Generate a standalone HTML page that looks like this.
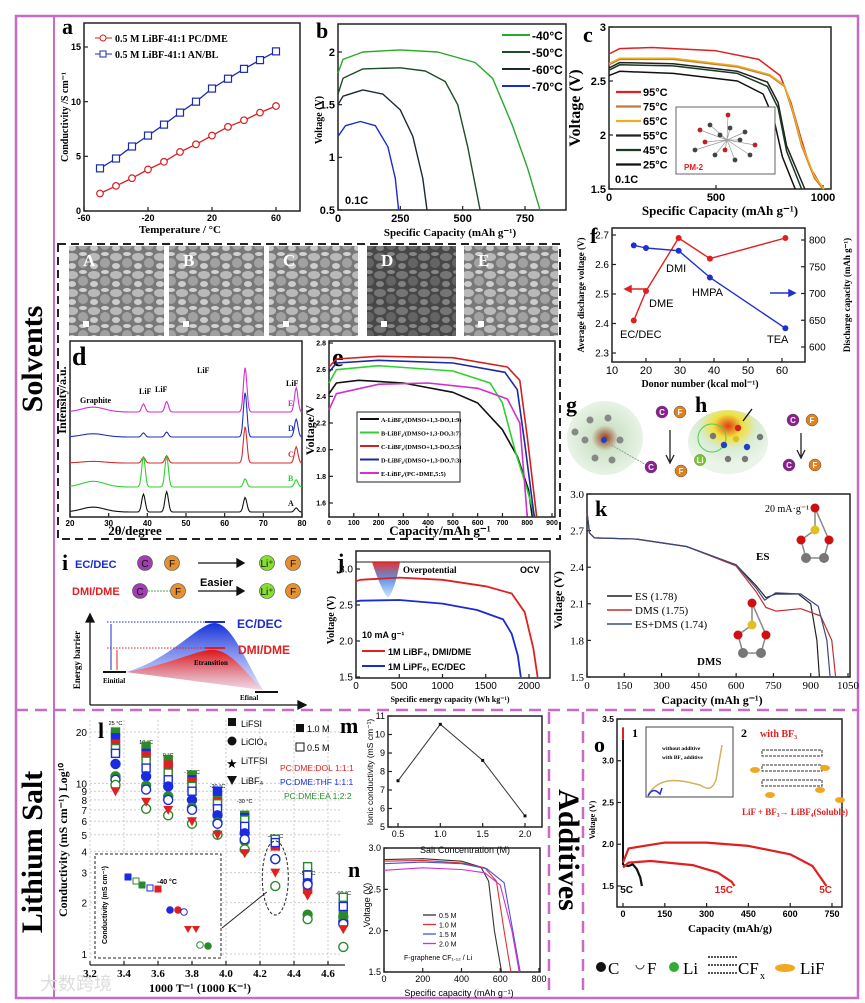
<!DOCTYPE html>
<html><head><meta charset="utf-8"><style>
html,body{margin:0;padding:0;background:#fff;}
svg{display:block;font-family:"Liberation Sans",sans-serif;}
.serif{font-family:"Liberation Serif",serif;}
</style></head><body>
<svg id="fig" width="865" height="1003" viewBox="0 0 865 1003" xmlns="http://www.w3.org/2000/svg">
<defs>
<pattern id="sem" width="22" height="18" patternUnits="userSpaceOnUse">
<rect width="22" height="18" fill="#6e6e6e"/>
<ellipse cx="6" cy="5" rx="6" ry="4" fill="#b4b4b4"/>
<ellipse cx="17" cy="11" rx="5" ry="5" fill="#9a9a9a"/>
<ellipse cx="6" cy="14" rx="4" ry="3" fill="#c8c8c8"/>
<ellipse cx="17" cy="2" rx="4" ry="2" fill="#cfcfcf"/>
</pattern>
<linearGradient id="blueG" x1="0" y1="0" x2="0" y2="1"><stop offset="0" stop-color="#1530d8"/><stop offset="1" stop-color="#c8d0ff" stop-opacity="0.6"/></linearGradient>
<linearGradient id="redG" x1="0" y1="0" x2="0" y2="1"><stop offset="0" stop-color="#e01515"/><stop offset="1" stop-color="#ffd0d0" stop-opacity="0.6"/></linearGradient>
<linearGradient id="funnel" x1="0" y1="0" x2="0" y2="1"><stop offset="0" stop-color="#e01a1a"/><stop offset="0.45" stop-color="#4a88e0"/><stop offset="1" stop-color="#d0e4ff"/></linearGradient>
<radialGradient id="blob" cx="0.5" cy="0.5" r="0.5"><stop offset="0" stop-color="#9c3a1a"/><stop offset="0.35" stop-color="#cfe3c9"/><stop offset="1" stop-color="#e8f3e6"/></radialGradient>
<radialGradient id="blob2" cx="0.5" cy="0.25" r="0.6"><stop offset="0" stop-color="#e04010"/><stop offset="0.3" stop-color="#f0e040"/><stop offset="0.6" stop-color="#d8ecd4"/><stop offset="1" stop-color="#eaf4e8"/></radialGradient>
</defs>
<rect x="0" y="0" width="865" height="1003" fill="#fff"/>
<!-- borders -->
<rect x="16" y="16" width="842" height="982" fill="none" stroke="#c86ac8" stroke-width="2.5"/>
<line x1="54" y1="16" x2="54" y2="998" stroke="#c86ac8" stroke-width="2"/>
<line x1="16" y1="710" x2="858" y2="710" stroke="#c86ac8" stroke-width="2.5" stroke-dasharray="12,7"/>
<line x1="549" y1="712" x2="549" y2="998" stroke="#c86ac8" stroke-width="2.5" stroke-dasharray="12,7"/>
<line x1="583" y1="712" x2="583" y2="998" stroke="#c86ac8" stroke-width="2.5" stroke-dasharray="12,7"/>
<rect x="58" y="244" width="502" height="295" fill="none" stroke="#222" stroke-width="2" stroke-dasharray="8,5"/>
<text class="serif" x="35" y="359" transform="rotate(-90 35 359)" text-anchor="middle" dominant-baseline="middle" font-size="30" font-weight="bold">Solvents</text>
<text class="serif" x="35" y="852" transform="rotate(-90 35 852)" text-anchor="middle" dominant-baseline="middle" font-size="30" font-weight="bold">Lithium Salt</text>
<text class="serif" x="566" y="850" transform="rotate(90 566 850)" text-anchor="middle" dominant-baseline="middle" font-size="30" font-weight="bold">Additives</text>
<text x="40" y="990" font-size="18" fill="#ddd">大数跨境</text>
<g id="layer"></g>
</svg>
<script>
const NS='http://www.w3.org/2000/svg';
const root=document.getElementById('layer');
function mk(tag,attrs,parent){const e=document.createElementNS(NS,tag);for(const k in attrs)e.setAttribute(k,attrs[k]);(parent||root).appendChild(e);return e;}
function txt(s,attrs,parent){const e=mk('text',attrs,parent);e.textContent=s;return e;}
function lin(d0,d1,r0,r1){return v=>r0+(v-d0)*(r1-r0)/(d1-d0);}

/* ---------- DATA ---------- */
// a
const aTemps=[-50,-40,-30,-20,-10,0,10,20,30,40,50,60];
const aPCDME=[1.6,2.3,3.0,3.8,4.5,5.4,6.1,6.9,7.7,8.3,9.0,9.6];
const aANBL=[3.9,4.8,5.9,6.9,7.9,9.0,10.0,11.2,12.1,13.0,13.8,14.6];
const aXTicks=[-60,-20,20,60];
const aYTicks=[0,5,10,15];
// b
const bLabels=['-40°C','-50°C','-60°C','-70°C'];
const bCurves=[
 [[0,1.8],[20,1.93],[100,2.0],[250,2.02],[400,2.0],[550,1.9],[620,1.75],[700,1.3],[760,0.9],[810,0.5]],
 [[0,1.6],[20,1.75],[100,1.84],[250,1.85],[350,1.82],[430,1.72],[480,1.5],[520,1.1],[570,0.5]],
 [[0,1.5],[20,1.58],[100,1.64],[180,1.6],[250,1.45],[300,1.2],[340,0.8],[357,0.5]],
 [[0,1.2],[30,1.3],[90,1.34],[150,1.3],[200,1.1],[230,0.8],[243,0.5]]];
const bXTicks=[0,250,500,750];
const bYTicks=[0.5,1,1.5,2];
// c
const cLabels=['95°C','75°C','65°C','55°C','45°C','25°C'];
const cCurves=[
 [[0,2.75],[50,2.8],[200,2.81],[500,2.78],[700,2.7],[800,2.55],[850,2.3],[900,1.95],[940,1.7],[1000,1.5]],
 [[0,2.65],[50,2.7],[300,2.7],[600,2.63],[750,2.55],[820,2.45],[860,2.2],[900,1.9],[960,1.6],[1000,1.5]],
 [[0,2.66],[50,2.71],[300,2.71],[600,2.64],[750,2.56],[820,2.46],[860,2.22],[900,1.92],[960,1.62],[1005,1.5]],
 [[0,2.62],[50,2.67],[300,2.66],[600,2.59],[740,2.49],[790,2.3],[830,1.9],[915,1.5]],
 [[0,2.6],[50,2.65],[300,2.64],[600,2.57],[740,2.45],[790,2.25],[830,1.85],[900,1.5]],
 [[0,2.55],[50,2.59],[300,2.57],[600,2.5],[720,2.38],[770,2.15],[810,1.8],[870,1.5]]];
const cXTicks=[0,500,1000];
const cYTicks=[1.5,2,2.5,3];
// d
const dNames=['E','D','C','B','A'];
const dPeaks=[26,39,45,65.3,78.5];
const dHeights=[[6,10,13,55,30],[4,5,6,55,22],[2,7,9,45,20],[7,38,38,10,9],[6,22,25,18,5]];
// e
const eLabels=['A-LiBF₄/(DMSO+1,3-DO,1:9)','B-LiBF₄/(DMSO+1,3-DO,3:7)','C-LiBF₄/(DMSO+1,3-DO,5:5)','D-LiBF₄/(DMSO+1,3-DO,7:3)','E-LiBF₄/(PC+DME,5:5)'];
const eCurves=[
 [[0,2.42],[30,2.5],[120,2.52],[300,2.5],[500,2.43],[600,2.35],[700,2.15],[760,1.95],[805,1.7],[820,1.5]],
 [[0,2.5],[30,2.6],[200,2.63],[500,2.59],[650,2.5],[700,2.35],[750,2.0],[800,1.7],[830,1.5]],
 [[0,2.62],[30,2.68],[200,2.7],[500,2.69],[720,2.62],[770,2.52],[800,2.1],[838,1.5]],
 [[0,2.58],[30,2.65],[200,2.67],[500,2.65],[710,2.58],[760,2.45],[790,2.05],[828,1.5]],
 [[0,2.3],[30,2.42],[200,2.49],[400,2.5],[600,2.46],[720,2.38],[770,2.2],[800,1.5]]];
const eXTicks=[0,100,200,300,400,500,600,700,800,900];
const eYTicks=[1.6,1.8,2.0,2.2,2.4,2.6,2.8];
// f
const fDonor=[16.4,20,29.6,38.8,61];
const fVolt=[2.41,2.51,2.69,2.62,2.69];
const fCap=[790,785,780,730,635];
const fNames=['EC/DEC','DME','DMI','HMPA','TEA'];
const fXTicks=[10,20,30,40,50,60];
const fYTicks=[2.3,2.4,2.5,2.6,2.7];
const fY2Ticks=[600,650,700,750,800];
// j
const jCurves=[
 [[0,2.83],[50,2.85],[500,2.88],[1000,2.85],[1500,2.76],[1800,2.66],[1950,2.4],[2050,1.9],[2100,1.5]],
 [[0,2.55],[50,2.56],[500,2.57],[1000,2.52],[1400,2.43],[1700,2.3],[1800,2.1],[1870,1.8],[1905,1.5]]];
const jXTicks=[0,500,1000,1500,2000];
const jYTicks=[1.5,2.0,2.5,3.0];
// k
const kLabels=['ES (1.78)','DMS (1.75)','ES+DMS (1.74)'];
const kCurves=[
 [[0,2.85],[10,2.68],[30,2.64],[200,2.63],[400,2.57],[600,2.42],[680,2.25],[720,2.15],[760,2.18],[850,2.18],[900,2.1],[925,1.8],[935,1.5]],
 [[0,2.85],[10,2.68],[30,2.64],[200,2.63],[400,2.57],[600,2.41],[680,2.2],[720,2.07],[760,2.04],[860,2.06],[940,2.0],[985,1.8],[1000,1.5]],
 [[0,2.85],[10,2.68],[30,2.64],[200,2.63],[400,2.57],[600,2.42],[680,2.23],[715,2.13],[760,2.19],[860,2.18],[930,2.08],[965,1.8],[978,1.5]]];
const kXTicks=[0,150,300,450,600,750,900,1050];
const kYTicks=[1.5,1.8,2.1,2.4,2.7,3.0];
// l
const lInvT=[3.35,3.53,3.66,3.8,3.95,4.11,4.29,4.48,4.69];
const lTempNames=['25 °C','10 °C','0 °C','-10 °C','-20 °C','-30 °C','-40 °C','-50 °C','-60 °C'];
const lSqFillGreen=[20,16.5,13.8,11.2,8.6,6.5,4.7,3.0,1.75];
const lSqFillBlue=[18.5,15,12.5,10.5,9,6.3,4.5,2.6,2.0];
const lSqFillRed=[17,14.5,12.8,10.2,7.8,5.3,4.3,2.4,1.6];
const lSqOpenGreen=[16,13.5,11.5,9.6,7.6,6.1,4.7,3.25,2.15];
const lSqOpenBlue=[15,12.3,10.5,9,7.1,5.6,4.5,2.9,1.9];
const lCircFillBlue=[13,11,9.6,8,6.5,5.1,3.6,2.6,1.55];
const lCircFillGreen=[11,9.7,8.4,7.2,5.9,4.6,3.6,1.7,1.65];
const lCircOpenBlue=[10.5,9.2,8,7,5.8,4.7,3.6,2.55,1.5];
const lCircOpenGreen=[9.8,7.1,6.5,5.8,5,4.1,2.5,1.6,1.1];
const lTriRed=[9,7.8,7,6,5,3.9,3.0,2.2,1.4];
const lYTicks=[1,2,3,4,5,6,7,8,9,10,20];
const lXTicks=[3.2,3.4,3.6,3.8,4.0,4.2,4.4,4.6];
// m
const mConc=[0.5,1.0,1.5,2.0];
const mCond=[7.5,10.55,8.6,5.6];
const mXTicks=[0.5,1.0,1.5,2.0];
const mYTicks=[5,6,7,8,9,10,11];
// n
const nLabels=['0.5 M','1.0 M','1.5 M','2.0 M'];
const nCurves=[
 [[0,2.86],[200,2.87],[400,2.84],[500,2.77],[540,2.6],[570,2.0],[607,1.5]],
 [[0,2.84],[200,2.85],[400,2.82],[520,2.76],[580,2.6],[620,2.0],[655,1.5]],
 [[0,2.81],[200,2.83],[400,2.81],[530,2.75],[620,2.58],[665,2.0],[703,1.5]],
 [[0,2.73],[200,2.76],[400,2.74],[520,2.7],[600,2.55],[660,2.0],[698,1.5]]];
const nXTicks=[0,200,400,600,800];
const nYTicks=[1.5,2.0,2.5,3.0];
// o
const oLabels=['5C','15C','5C'];
const oCurves=[
 [[0,1.75],[20,1.74],[35,1.76],[50,1.7],[62,1.6],[68,1.5]],
 [[0,1.72],[20,1.78],[100,1.8],[250,1.75],[340,1.66],[390,1.55],[400,1.5]],
 [[0,1.78],[20,1.95],[150,2.02],[300,2.02],[450,1.98],[600,1.88],[680,1.74],[730,1.5]]];
const oXTicks=[0,150,300,450,600,750];
const oYTicks=[1.5,2.0,2.5,3.0,3.5];

/* ---------- helpers ---------- */
function frame(x0,y0,x1,y1,name,sw){const r=mk('rect',{x:x0,y:y0,width:x1-x0,height:y1-y0,fill:'none',stroke:'#222','stroke-width':sw||1.5});

return r;}
function xTicks(ticks,sx,y,fs,fmt,opts){opts=opts||{};ticks.forEach(t=>{const x=sx(t);
 const l=mk('line',{x1:x,y1:y,x2:x,y2:y-(opts.len||4),stroke:'#222','stroke-width':1.2});
 
 
 const tt=txt(fmt?fmt(t):String(t),{x:x,y:y+fs+1,'font-size':fs,'text-anchor':'middle','font-weight':opts.bold?'bold':'normal',class:opts.serif?'serif':''});
 
 });}
function yTicks(ticks,sy,x,fs,fmt,opts){opts=opts||{};ticks.forEach(t=>{const y=sy(t);
 const l=mk('line',{x1:x,y1:y,x2:x+(opts.right?-4:4),y2:y,stroke:'#222','stroke-width':1.2});
 
 
 const tt=txt(fmt?fmt(t):String(t),{x:opts.right?x+4:x-3,y:y+fs*0.35,'font-size':fs,'text-anchor':opts.right?'start':'end','font-weight':opts.bold?'bold':'normal',class:opts.serif?'serif':''});
 
 });}
function path(pts,sx,sy,color,w){let d='';pts.forEach((p,i)=>{d+=(i?'L':'M')+sx(p[0]).toFixed(1)+','+sy(p[1]).toFixed(1);});
 return mk('path',{d:d,fill:'none',stroke:color,'stroke-width':w||1.5,'stroke-linejoin':'round'});}
function label(s,x,y,fs,opts){opts=opts||{};const t=txt(s,Object.assign({x:x,y:y,'font-size':fs},opts));return t;}

/* ---------- panel a ---------- */
{const sx=lin(-60,60,84,276),sy=lin(0,15,211,47);
frame(84,23,300,211,'panel-a-frame');
xTicks(aXTicks,sx,211,9,null,{bold:true});
yTicks(aYTicks,sy,84,9,null,{bold:true});
const pl=label('a',62,34,22,{class:'serif','font-weight':'bold'});


const xl=label('Temperature / °C',180,233,11,{class:'serif','font-weight':'bold','text-anchor':'middle'});


const yl=label('Conductivity /S cm⁻¹',68,117,10,{class:'serif','font-weight':'bold','text-anchor':'middle',transform:'rotate(-90 68 117)'});


const l1=path(aTemps.map((t,i)=>[t,aPCDME[i]]),sx,sy,'#d42020',1.3);


const l2=path(aTemps.map((t,i)=>[t,aANBL[i]]),sx,sy,'#1a2bb0',1.3);


aTemps.forEach((t,i)=>{const c=mk('circle',{cx:sx(t),cy:sy(aPCDME[i]),r:3.3,fill:'#fff',stroke:'#d42020','stroke-width':1.2});


const s=mk('rect',{x:sx(t)-3.5,y:sy(aANBL[i])-3.5,width:7,height:7,fill:'#fff',stroke:'#1a2bb0','stroke-width':1.2});

});
const lg1=mk('g',{});
mk('line',{x1:95,y1:38,x2:112,y2:38,stroke:'#d42020'},lg1);mk('circle',{cx:103,cy:38,r:3,fill:'#fff',stroke:'#d42020'},lg1);
txt('0.5 M LiBF-41:1 PC/DME',{x:115,y:42,'font-size':10,class:'serif','font-weight':'bold'},lg1);
const lg2=mk('g',{});
mk('line',{x1:95,y1:54,x2:112,y2:54,stroke:'#1a2bb0'},lg2);mk('rect',{x:100,y:51,width:6,height:6,fill:'#fff',stroke:'#1a2bb0'},lg2);
txt('0.5 M LiBF-41:1 AN/BL',{x:115,y:58,'font-size':10,class:'serif','font-weight':'bold'},lg2);}

/* ---------- panel b ---------- */
{const sx=lin(0,750,338,525),sy=lin(0.5,2,210,52);
frame(338,24,566,210,'panel-b-frame');
xTicks(bXTicks,sx,210,11,null,{bold:true});
yTicks(bYTicks,sy,338,11,null,{bold:true});
const pl=label('b',316,38,22,{class:'serif','font-weight':'bold'});

const xl=label('Specific Capacity (mAh g⁻¹)',450,236,11,{class:'serif','font-weight':'bold','text-anchor':'middle'});

const yl=label('Voltage (V)',322,120,10,{class:'serif','font-weight':'bold','text-anchor':'middle',transform:'rotate(-90 322 120)'});

const cols=['#2aa82a','#1d4d2a','#1a2a33','#1a2bd0'];
bCurves.forEach((c,i)=>{const p=path(c,sx,sy,cols[i],1.4);


const g=mk('g',{});


mk('line',{x1:502,y1:35+i*17,x2:530,y2:35+i*17,stroke:cols[i],'stroke-width':2},g);
txt(bLabels[i],{x:532,y:40+i*17,'font-size':12,'font-weight':'bold'},g);});
const r=label('0.1C',345,204,11,{'font-weight':'bold'});}

/* ---------- panel c ---------- */
{const sx=lin(0,1000,609,823),sy=lin(1.5,3,189,27);
frame(609,27,831,189,'panel-c-frame');
xTicks(cXTicks,sx,189,11,null,{bold:true});
yTicks(cYTicks,sy,609,11,null,{bold:true});
const pl=label('c',583,42,22,{class:'serif','font-weight':'bold'});

const xl=label('Specific Capacity (mAh g⁻¹)',720,215,13,{class:'serif','font-weight':'bold','text-anchor':'middle'});

const yl=label('Voltage (V)',580,108,16,{class:'serif','font-weight':'bold','text-anchor':'middle',transform:'rotate(-90 580 108)'});

const cols=['#e02020','#c87838','#e8b020','#222','#1a3a22','#111'];
cCurves.forEach((c,i)=>{const p=path(c,sx,sy,cols[i],1.5);


const g=mk('g',{});


mk('line',{x1:616,y1:92+i*14.5,x2:641,y2:92+i*14.5,stroke:cols[i],'stroke-width':2.2},g);
txt(cLabels[i],{x:643,y:96+i*14.5,'font-size':11,'font-weight':'bold'},g);});
const inset=mk('g',{});
mk('rect',{x:676,y:107,width:99,height:67,fill:'#fff',stroke:'#666'},inset);
[[700,130],[710,125],[720,135],[705,142],[730,128],[740,140],[725,150],[715,155],[745,132],[755,145],[735,160],[695,150],[728,115],[750,155]].forEach((p,i)=>{mk('line',{x1:p[0],y1:p[1],x2:727,y2:140,stroke:'#999','stroke-width':0.7},inset);mk('circle',{cx:p[0],cy:p[1],r:2.4,fill:i%3?'#444':'#c02020'},inset);});
txt('PM-2',{x:684,y:170,'font-size':8,fill:'#e02020','font-weight':'bold'},inset);
const r=label('0.1C',615,183,11,{'font-weight':'bold'});}

/* ---------- SEM images ---------- */
{const semX=[[69,164],[169,264],[269,358],[367,456],[464,558]];const L=['A','B','C','D','E'];
semX.forEach((s,i)=>{const g=mk('g',{});


mk('rect',{x:s[0],y:246,width:s[1]-s[0],height:90,fill:'url(#sem)'},g);
mk('rect',{x:s[0],y:246,width:s[1]-s[0],height:90,fill:i==3?'#000':'#fff',opacity:i==3?0.35:0.08},g);
txt(L[i],{x:s[0]+14,y:266,'font-size':17,fill:'#fff',class:'serif','font-weight':'bold'},g);
mk('rect',{x:s[0]+14,y:321,width:6,height:6,fill:'#fff'},g);});}

/* ---------- panel d ---------- */
{const sx=lin(20,80,70,302);const base=[412,437,463,487,512];const cols=['#d030d0','#2030c0','#d03030','#30d030','#111'];
frame(70,341,302,517,'panel-d-frame');
xTicks([20,30,40,50,60,70,80],sx,517,8,null,{bold:true});
const pl=label('d',72,365,26,{class:'serif','font-weight':'bold'});

const xl=label('2θ/degree',135,535,13,{class:'serif','font-weight':'bold','text-anchor':'middle'});

const yl=label('Intensity/a.u.',66,400,12,{class:'serif','font-weight':'bold','text-anchor':'middle',transform:'rotate(-90 66 400)'});

dNames.forEach((n,k)=>{let d='';for(let t=20;t<=80;t+=0.25){let v=0;dPeaks.forEach((p,j)=>{const w=j==0?3:0.45;v+=dHeights[k][j]*Math.exp(-((t-p)*(t-p))/(2*w*w));});
v*= (dPeaks.indexOf(26)>=0?1:1)*0.9;
d+=(t==20?'M':'L')+sx(t).toFixed(1)+','+(base[k]-v*0.9).toFixed(1);}
const p=mk('path',{d:d,fill:'none',stroke:cols[k],'stroke-width':1.1});


const t=txt(n,{x:288,y:base[k]-6,'font-size':8,fill:cols[k],class:'serif','font-weight':'bold'});

});
[['Graphite',80,403],['LiF',139,394],['LiF',155,392],['LiF',197,373],['LiF',286,386]].forEach(a=>{const t=txt(a[0],{x:a[1],y:a[2],'font-size':8,class:'serif','font-weight':'bold'});

});}

/* ---------- panel e ---------- */
{const sx=lin(0,900,329,552),sy=lin(1.6,2.8,503,343);
frame(329,341,555,517,'panel-e-frame');
xTicks(eXTicks,sx,517,7,null,{bold:true});
yTicks(eYTicks,sy,329,7,v=>v.toFixed(1),{bold:true});
const pl=label('e',332,366,26,{class:'serif','font-weight':'bold'});

const xl=label('Capacity/mAh g⁻¹',440,535,13,{class:'serif','font-weight':'bold','text-anchor':'middle'});

const yl=label('Voltage/V',314,430,12,{class:'serif','font-weight':'bold','text-anchor':'middle',transform:'rotate(-90 314 430)'});

const cols=['#111','#30d030','#d02020','#1a2aa0','#d030d0'];
eCurves.forEach((c,i)=>{const p=path(c,sx,sy,cols[i],1.6);

});
mk('rect',{x:357,y:412,width:103,height:70,fill:'#fff',stroke:'#222'});
eLabels.forEach((s,i)=>{const g=mk('g',{});


mk('line',{x1:360,y1:419+i*13.5,x2:379,y2:419+i*13.5,stroke:cols[i],'stroke-width':2},g);
txt(s,{x:381,y:422+i*13.5,'font-size':6.3,class:'serif','font-weight':'bold'},g);});}

/* ---------- panel f ---------- */
{const sx=lin(10,60,612,782),sy=lin(2.3,2.7,353,235),sy2=lin(600,800,347,240);
frame(612,228,805,362,'panel-f-frame');
xTicks(fXTicks,sx,362,11,null,{});
yTicks(fYTicks,sy,612,10,v=>v.toFixed(1),{});
yTicks(fY2Ticks,sy2,805,10,null,{right:true});
const pl=label('f',590,243,22,{class:'serif','font-weight':'bold'});

const xl=label('Donor number (kcal mol⁻¹)',700,387,10,{class:'serif','font-weight':'bold','text-anchor':'middle'});

const yl=label('Average discharge voltage (V)',584,295,9,{class:'serif','font-weight':'bold','text-anchor':'middle',transform:'rotate(-90 584 295)'});

const yl2=label('Discharge capacity (mAh g⁻¹)',850,295,9,{class:'serif','font-weight':'bold','text-anchor':'middle',transform:'rotate(-90 850 295)'});

const p1=path(fDonor.map((d,i)=>[d,fVolt[i]]),sx,sy,'#e02020',1.4);

const p2=path(fDonor.map((d,i)=>[d,fCap[i]]),sx,sy2,'#2030d0',1.4);

fDonor.forEach((d,i)=>{const a=mk('circle',{cx:sx(d),cy:sy(fVolt[i]),r:3,fill:'#e02020'});


const b=mk('circle',{cx:sx(d),cy:sy2(fCap[i]),r:3,fill:'#2030d0'});

});
[['EC/DEC',620,338],['DME',649,307],['DMI',666,272],['HMPA',692,296],['TEA',767,343]].forEach(a=>{const t=txt(a[0],{x:a[1],y:a[2],'font-size':11});

});
mk('path',{d:'M646,289 L625,289 M625,289 l6,-3 v6 z',stroke:'#e02020',fill:'#e02020','stroke-width':1.5});
mk('path',{d:'M770,293 L795,293 M795,293 l-6,-3 v6 z',stroke:'#2030d0',fill:'#2030d0','stroke-width':1.5});}

/* ---------- g, h ---------- */
{function ball(x,y,l,fill,g,r){mk('circle',{cx:x,cy:y,r:r||6,fill:fill,stroke:'#555','stroke-width':0.5},g);if(l)txt(l,{x:x,y:y+3,'font-size':8,'text-anchor':'middle',fill:'#fff','font-weight':'bold'},g);}
const g=mk('g',{});
txt('g',{x:566,y:412,'font-size':22,class:'serif','font-weight':'bold'},g);
mk('ellipse',{cx:605,cy:438,rx:38,ry:37,fill:'url(#blob)'},g);
[[590,420],[608,418],[585,440],[620,440],[595,458],[612,460],[575,432]].forEach(p=>mk('circle',{cx:p[0],cy:p[1],r:3.5,fill:'#888'},g));
mk('circle',{cx:604,cy:440,r:3,fill:'#2040c0'},g);
mk('line',{x1:606,y1:442,x2:648,y2:466,stroke:'#8a8',"stroke-dasharray":'2,1'},g);
ball(662,412,'C','#8a2090',g);ball(680,412,'F','#e08020',g);
mk('path',{d:'M670,430 V462 M666,455 l4,8 l4,-8',stroke:'#222',fill:'none','stroke-width':1.3},g);
ball(651,467,'C','#8a2090',g);ball(681,471,'F','#e08020',g);
const h=mk('g',{});
txt('h',{x:695,y:412,'font-size':22,class:'serif','font-weight':'bold'},h);
mk('ellipse',{cx:728,cy:442,rx:40,ry:32,fill:'url(#blob2)'},h);
mk('circle',{cx:712,cy:438,r:14,fill:'none',stroke:'#5c5'},h);
[[738,428],[736,439],[724,445],[747,447],[713,436],[760,437],[728,459],[745,459]].forEach((p,i)=>mk('circle',{cx:p[0],cy:p[1],r:3.2,fill:i==0?'#d02020':(i<2?'#d8c020':(i<4?'#2040c0':'#777'))},h));
ball(700,460,'Li','#7c2',h,5.5);
mk('line',{x1:752,y1:409,x2:743,y2:421,stroke:'#111','stroke-width':1.3},h);
ball(793,420,'C','#8a2090',h);ball(812,420,'F','#e08020',h);
mk('path',{d:'M801,433 V457 M797,450 l4,8 l4,-8',stroke:'#222',fill:'none','stroke-width':1.3},h);
ball(789,465,'C','#8a2090',h);ball(815,465,'F','#e08020',h);}

/* ---------- panel i ---------- */
{function ball(x,y,l,fill,g){mk('circle',{cx:x,cy:y,r:7.5,fill:fill,stroke:'#444','stroke-width':0.6},g);txt(l,{x:x,y:y+4,'font-size':10,'text-anchor':'middle',fill:'#111'},g);}
const g=mk('g',{});
txt('i',{x:62,y:570,'font-size':22,class:'serif','font-weight':'bold'},g);
txt('EC/DEC',{x:75,y:568,'font-size':11,fill:'#1a2bd0','font-weight':'bold'},g);
txt('DMI/DME',{x:72,y:595,'font-size':11,fill:'#e02020','font-weight':'bold'},g);
ball(145,563,'C','#a040b0',g);ball(172,563,'F','#e89030',g);
ball(140,591,'C','#a040b0',g);ball(178,591,'F','#e89030',g);
mk('line',{x1:148,y1:591,x2:170,y2:591,stroke:'#5a5','stroke-dasharray':'2,1'},g);
mk('path',{d:'M198,563 H243 M237,559 l7,4 l-7,4 z M198,591 H243 M237,587 l7,4 l-7,4 z',stroke:'#111',fill:'#111','stroke-width':1.3},g);
txt('Easier',{x:200,y:586,'font-size':11,'font-weight':'bold'},g);
ball(267,563,'Li⁺','#8d3',g);ball(293,563,'F','#e89030',g);
ball(267,591,'Li⁺','#8d3',g);ball(293,591,'F','#e89030',g);
const dg=mk('g',{});
mk('path',{d:'M126,672 C170,660 200,622 215,623 C232,624 245,660 263,690 L126,672 Z',fill:'url(#blueG)'},dg);
mk('path',{d:'M126,672 C170,665 200,648 215,650 C232,652 245,672 263,690 L126,672 Z',fill:'url(#redG)'},dg);
mk('path',{d:'M90,705 V615 M86,622 l4,-8 l4,8 z M90,705 H305 M298,701 l8,4 l-8,4 z',stroke:'#111',fill:'#111','stroke-width':1.3},dg);
mk('line',{x1:103,y1:672,x2:126,y2:672,stroke:'#111','stroke-width':2},dg);
mk('line',{x1:255,y1:692,x2:278,y2:692,stroke:'#111','stroke-width':2},dg);
mk('line',{x1:205,y1:622,x2:225,y2:622,stroke:'#1a2bd0','stroke-width':2},dg);
mk('line',{x1:205,y1:648,x2:225,y2:648,stroke:'#e02020','stroke-width':2},dg);
mk('line',{x1:107,y1:622,x2:205,y2:622,stroke:'#1a2bd0','stroke-dasharray':'1.5,1.5'},dg);
mk('line',{x1:107,y1:648,x2:205,y2:648,stroke:'#e02020','stroke-dasharray':'1.5,1.5'},dg);
mk('line',{x1:111,y1:624,x2:111,y2:670,stroke:'#1a2bd0'},dg);
mk('line',{x1:117,y1:650,x2:117,y2:670,stroke:'#e02020'},dg);
txt('EC/DEC',{x:237,y:628,'font-size':12,fill:'#1a2bd0','font-weight':'bold'},dg);
txt('DMI/DME',{x:238,y:654,'font-size':12,fill:'#e02020','font-weight':'bold'},dg);
txt('Etransition',{x:194,y:665,'font-size':7,class:'serif','font-weight':'bold'},dg);
txt('Einitial',{x:103,y:683,'font-size':7,class:'serif','font-weight':'bold'},dg);
txt('Efinal',{x:240,y:700,'font-size':7,class:'serif','font-weight':'bold'},dg);
txt('Energy barrier',{x:80,y:660,'font-size':9,class:'serif','font-weight':'bold','text-anchor':'middle',transform:'rotate(-90 80 660)'},dg);}

/* ---------- panel j ---------- */
{const sx=lin(0,2000,356,529),sy=lin(1.5,3.0,677,569);
frame(356,551,550,678,'panel-j-frame');
mk('line',{x1:356,y1:562,x2:550,y2:562,stroke:'#222','stroke-width':1});
xTicks(jXTicks,sx,678,10,null,{});
yTicks(jYTicks,sy,356,10,v=>v.toFixed(1),{});
const pl=label('j',337,569,22,{class:'serif','font-weight':'bold'});

const xl=label('Specific energy capacity (Wh kg⁻¹)',450,702,8,{class:'serif','font-weight':'bold','text-anchor':'middle'});

const yl=label('Voltage (V)',334,620,10,{class:'serif','font-weight':'bold','text-anchor':'middle',transform:'rotate(-90 334 620)'});

const f=mk('path',{d:'M372,562 L400,562 Q395,590 388,598 Q381,590 372,562 Z',fill:'url(#funnel)',opacity:0.9});

const cols=['#e02020','#1a2bd0'],names=['1M LiBF₄, DMI/DME','1M LiPF₆, EC/DEC'];
jCurves.forEach((c,i)=>{const p=path(c,sx,sy,cols[i],1.8);


const g=mk('g',{});


mk('line',{x1:362,y1:651+i*15,x2:385,y2:651+i*15,stroke:cols[i],'stroke-width':2},g);
txt(names[i],{x:388,y:655+i*15,'font-size':9,'font-weight':'bold'},g);});
[['Overpotential',403,573,9,'serif'],['OCV',520,573,9,''],['10 mA g⁻¹',362,638,9,'']].forEach(a=>{const t=txt(a[0],{x:a[1],y:a[2],'font-size':a[3],class:a[4],'font-weight':'bold'});

});}

/* ---------- panel k ---------- */
{const sx=lin(0,1050,587,848),sy=lin(1.5,3.0,677,494);
frame(587,494,850,677,'panel-k-frame');
xTicks(kXTicks,sx,677,11,null,{serif:true});
yTicks(kYTicks,sy,587,11,v=>v.toFixed(1),{serif:true});
const pl=label('k',595,516,22,{class:'serif','font-weight':'bold'});

const xl=label('Capacity (mAh g⁻¹)',712,704,12,{class:'serif','font-weight':'bold','text-anchor':'middle'});

const yl=label('Voltage (V)',562,600,12,{class:'serif','font-weight':'bold','text-anchor':'middle',transform:'rotate(-90 562 600)'});

const cols=['#222','#c03030','#3a4a80'];
kCurves.forEach((c,i)=>{const p=path(c,sx,sy,cols[i],1.2);


const g=mk('g',{});


mk('line',{x1:607,y1:596+i*14,x2:632,y2:596+i*14,stroke:cols[i],'stroke-width':1.5},g);
txt(kLabels[i],{x:635,y:600+i*14,'font-size':11,class:'serif'},g);});
const rt=label('20 mA·g⁻¹',765,512,10,{class:'serif'});
function mol(cx,cy,name,lx,ly){const g=mk('g',{});
mk('path',{d:`M${cx},${cy-22} V${cy} L${cx-14},${cy+10} L${cx-9},${cy+28} L${cx+9},${cy+28} L${cx+14},${cy+10} Z`,fill:'none',stroke:'#888','stroke-width':1.5},g);
mk('circle',{cx:cx,cy:cy-22,r:4.5,fill:'#d01010'},g);mk('circle',{cx:cx,cy:cy,r:4.5,fill:'#e0c020'},g);
mk('circle',{cx:cx-14,cy:cy+10,r:4.5,fill:'#d01010'},g);mk('circle',{cx:cx+14,cy:cy+10,r:4.5,fill:'#d01010'},g);
mk('circle',{cx:cx-9,cy:cy+28,r:5,fill:'#777'},g);mk('circle',{cx:cx+9,cy:cy+28,r:5,fill:'#777'},g);
txt(name,{x:lx,y:ly,'font-size':11,class:'serif','font-weight':'bold'},g);return g;}
const m1=mol(815,530,'ES',756,560);
const m2=mol(752,625,'DMS',697,665);}

/* ---------- panel l ---------- */
{const sx=lin(3.2,4.6,90,328);const ly=v=>954-(Math.log10(v))*170.6;
const gridG=mk('g',{});
lXTicks.forEach(t=>mk('line',{x1:sx(t),y1:720,x2:sx(t),y2:965,stroke:'#ccc','stroke-dasharray':'2,2'},gridG));
lYTicks.forEach(t=>mk('line',{x1:90,y1:ly(t),x2:340,y2:ly(t),stroke:'#ccc','stroke-dasharray':'2,2'},gridG));
mk('line',{x1:90,y1:965,x2:345,y2:965,stroke:'#222','stroke-width':1.2});
xTicks(lXTicks,sx,965,11,v=>v.toFixed(1),{serif:true,bold:true});
lYTicks.forEach(t=>{const tt=txt(String(t),{x:87,y:ly(t)+4,'font-size':10,'text-anchor':'end'});

});
const pl=label('l',98,738,22,{class:'serif','font-weight':'bold'});

const xl=label('1000 T⁻¹ (1000 K⁻¹)',200,992,12,{class:'serif','font-weight':'bold','text-anchor':'middle'});

const yl=label('Conductivity (mS cm⁻¹) Log¹⁰',67,840,12,{class:'serif','font-weight':'bold','text-anchor':'middle',transform:'rotate(-90 67 840)'});

lInvT.forEach((x,i)=>{const t=txt(lTempNames[i],{x:sx(x),y:[725,744,757,774,788,803,838,875,895][i],'font-size':5.5,'text-anchor':'middle'});

});
const series=[[lSqFillGreen,'sq','#2a8a2a',true],[lSqFillBlue,'sq','#1a2be0',true],[lSqFillRed,'sq','#e02020',true],[lSqOpenGreen,'sq','#2a8a2a',false],[lSqOpenBlue,'sq','#1a2be0',false],[lCircFillBlue,'c','#1a2be0',true],[lCircFillGreen,'c','#2a8a2a',true],[lCircOpenBlue,'c','#1a2be0',false],[lCircOpenGreen,'c','#2a8a2a',false],[lTriRed,'t','#e02020',true]];
series.forEach(s=>{s[0].forEach((v,i)=>{const x=sx(lInvT[i]),y=ly(v);let e;
if(s[1]=='sq')e=mk('rect',{x:x-4,y:y-4,width:8,height:8,fill:s[3]?s[2]:'#fff',stroke:s[2],'stroke-width':1.4});
else if(s[1]=='c')e=mk('circle',{cx:x,cy:y,r:4.5,fill:s[3]?s[2]:'#fff',stroke:s[2],'stroke-width':1.4});
else e=mk('path',{d:`M${x-5},${y-4} L${x+5},${y-4} L${x},${y+5} Z`,fill:s[2]});

});});
mk('ellipse',{cx:sx(4.29),cy:878,rx:13,ry:37,fill:'none',stroke:'#222','stroke-dasharray':'3,2'});
mk('line',{x1:sx(4.24),y1:892,x2:222,y2:928,stroke:'#222'});
const inset=mk('g',{});
mk('rect',{x:95,y:854,width:126,height:104,fill:'#fff',stroke:'#222','stroke-dasharray':'3,2'},inset);
txt('-40 °C',{x:157,y:884,'font-size':7,'font-weight':'bold'},inset);
txt('Conductivity (mS cm⁻¹)',{x:107,y:905,'font-size':7,'font-weight':'bold','text-anchor':'middle',transform:'rotate(-90 107 905)'},inset);
[[128,877,'sq','#1a2be0',1],[136,881,'sq','#2a8a2a',0],[142,885,'sq','#2a8a2a',1],[150,888,'sq','#1a2be0',0],[158,889,'sq','#e02020',1],[170,910,'c','#1a2be0',1],[178,910,'c','#e02020',1],[184,912,'c','#1a2be0',0],[188,929,'t','#e02020',1],[196,929,'t','#e02020',1],[200,945,'c','#2a8a2a',0],[208,946,'c','#2a8a2a',1]].forEach(p=>{
if(p[2]=='sq')mk('rect',{x:p[0]-3,y:p[1]-3,width:6,height:6,fill:p[4]?p[3]:'#fff',stroke:p[3]},inset);
else if(p[2]=='c')mk('circle',{cx:p[0],cy:p[1],r:3.3,fill:p[4]?p[3]:'#fff',stroke:p[3]},inset);
else mk('path',{d:`M${p[0]-4},${p[1]-3} h8 l-4,7 z`,fill:p[3]},inset);});
const lg=mk('g',{});
mk('rect',{x:228,y:718,width:8,height:8,fill:'#111'},lg);txt('LiFSI',{x:241,y:727,'font-size':9},lg);
mk('circle',{cx:232,cy:741,r:4.5,fill:'#111'},lg);txt('LiClO₄',{x:241,y:745,'font-size':9},lg);
txt('★',{x:226,y:768,'font-size':13},lg);txt('LiTFSI',{x:241,y:764,'font-size':9},lg);
mk('path',{d:'M227,776 h10 l-5,9 z',fill:'#111'},lg);txt('LiBF₄',{x:241,y:784,'font-size':9},lg);
mk('rect',{x:296,y:724,width:8,height:8,fill:'#111'},lg);txt('1.0 M',{x:307,y:732,'font-size':9},lg);
mk('rect',{x:296,y:743,width:8,height:8,fill:'#fff',stroke:'#111'},lg);txt('0.5 M',{x:307,y:751,'font-size':9},lg);
txt('PC:DME:DOL 1:1:1',{x:280,y:771,'font-size':8.5,fill:'#e02020'},lg);
txt('PC:DME:THF 1:1:1',{x:280,y:785,'font-size':8.5,fill:'#1a2be0'},lg);
txt('PC:DME:EA 1:2:2',{x:284,y:799,'font-size':8.5,fill:'#2a8a2a'},lg);}

/* ---------- panel m ---------- */
{const sx=lin(0.5,2.0,398,525),sy=lin(5,11,827,716);
frame(388,716,542,827,'panel-m-frame');
xTicks(mXTicks,sx,827,9,v=>v.toFixed(1),{});
yTicks(mYTicks,sy,388,9,null,{});
const pl=label('m',340,733,22,{class:'serif','font-weight':'bold'});

const xl=label('Salt Concentration (M)',465,853,9,{'text-anchor':'middle'});

const yl=label('Ionic conductivity (mS cm⁻¹)',373,772,8.5,{'text-anchor':'middle',transform:'rotate(-90 373 772)'});

const p=path(mConc.map((c,i)=>[c,mCond[i]]),sx,sy,'#333',1);

mConc.forEach((c,i)=>{const r=mk('rect',{x:sx(c)-1.5,y:sy(mCond[i])-1.5,width:3,height:3,fill:'#111'});

});}

/* ---------- panel n ---------- */
{const sx=lin(0,800,384,539),sy=lin(1.5,3.0,972,848);
frame(384,848,540,972,'panel-n-frame');
xTicks(nXTicks,sx,972,9,null,{});
yTicks(nYTicks,sy,384,9,v=>v.toFixed(1),{});
const pl=label('n',348,877,22,{class:'serif','font-weight':'bold'});

const xl=label('Specific capacity (mAh g⁻¹)',459,996,9,{'text-anchor':'middle'});

const yl=label('Voltage (V)',370,905,9,{'text-anchor':'middle',transform:'rotate(-90 370 905)'});

const cols=['#333','#e03030','#5050d0','#d030d0'];
nCurves.forEach((c,i)=>{const p=path(c,sx,sy,cols[i],1.1);


const g=mk('g',{});


mk('line',{x1:423,y1:915+i*9.5,x2:436,y2:915+i*9.5,stroke:cols[i],'stroke-width':1.3},g);
txt(nLabels[i],{x:439,y:918+i*9.5,'font-size':7},g);});
const t=label('F-graphene CF₁.₁₂ / Li',404,960,7,{});}

/* ---------- panel o ---------- */
{const sx=lin(0,750,623,832),sy=lin(1.5,3.5,886,719);
frame(617,719,842,907,'panel-o-frame');
xTicks(oXTicks,sx,907,9,null,{bold:true});
yTicks(oYTicks,sy,617,8.5,v=>v.toFixed(1),{bold:true});
const pl=label('o',594,752,22,{class:'serif','font-weight':'bold'});

const xl=label('Capacity (mAh/g)',730,932,11,{class:'serif','font-weight':'bold','text-anchor':'middle'});

const yl=label('Voltage (V)',595,820,8,{class:'serif','font-weight':'bold','text-anchor':'middle',transform:'rotate(-90 595 820)'});

mk('line',{x1:sx(0),y1:sy(1.75),x2:sx(0),y2:sy(3.25),stroke:'#111','stroke-width':2});
mk('line',{x1:sx(0),y1:sy(3.25),x2:sx(0),y2:sy(3.4),stroke:'#e02020','stroke-width':2});
const cols=['#111','#e02020','#e02020'];const lx=[633,733,832];
oCurves.forEach((c,i)=>{const p=path(c,sx,sy,cols[i],2.2);


const t=txt(oLabels[i],{x:lx[i],y:893,'font-size':10,fill:cols[i],'font-weight':'bold','text-anchor':'end'});

});
const in1=mk('g',{});
txt('1',{x:632,y:737,'font-size':12,class:'serif','font-weight':'bold'},in1);
mk('rect',{x:646,y:727,width:87,height:70,fill:'#fff',stroke:'#444'},in1);
mk('path',{d:'M648,795 C660,775 680,780 700,785 C708,790 712,790 716,780 L722,745',fill:'none',stroke:'#d4b060','stroke-width':1.5},in1);
mk('path',{d:'M648,796 C652,788 656,790 660,794 L662,788',fill:'none',stroke:'#2030d0','stroke-width':1.5},in1);
txt('without additive',{x:662,y:750,'font-size':5.5,class:'serif','font-weight':'bold'},in1);
txt('with BF₃ additive',{x:662,y:759,'font-size':5.5,class:'serif','font-weight':'bold'},in1);
const in2=mk('g',{});
txt('2',{x:741,y:737,'font-size':12,class:'serif','font-weight':'bold'},in2);
txt('with BF₃',{x:760,y:737,'font-size':10,fill:'#e02020',class:'serif','font-weight':'bold'},in2);
[750,765,780].forEach(y=>mk('rect',{x:762,y:y,width:60,height:6,fill:'none',stroke:'#333','stroke-dasharray':'3,1'},in2));
[[755,770],[825,768],[770,795],[820,790],[840,800]].forEach(p=>mk('ellipse',{cx:p[0],cy:p[1],rx:5,ry:3,fill:'#f0a820'},in2));
txt('LiF + BF₃→ LiBF₄(Soluble)',{x:742,y:815,'font-size':9,fill:'#e02020',class:'serif','font-weight':'bold'},in2);
const lg=mk('g',{});
mk('circle',{cx:601,cy:967,r:5,fill:'#111'},lg);txt('C',{x:608,y:974,'font-size':17,class:'serif'},lg);
mk('path',{d:'M636,965 a4,4 0 0 0 8,0',fill:'none',stroke:'#333'},lg);txt('F',{x:647,y:974,'font-size':17,class:'serif'},lg);
mk('circle',{cx:674,cy:967,r:5,fill:'#3a3'},lg);txt('Li',{x:683,y:974,'font-size':17,class:'serif'},lg);
[957,965,973].forEach(y=>mk('line',{x1:708,y1:y,x2:738,y2:y,stroke:'#555','stroke-dasharray':'2,1','stroke-width':2},lg));
txt('CF',{x:738,y:974,'font-size':17,class:'serif'},lg);txt('x',{x:760,y:979,'font-size':10,class:'serif'},lg);
mk('ellipse',{cx:785,cy:968,rx:10,ry:4,fill:'#f0a820'},lg);txt('LiF',{x:800,y:974,'font-size':17,class:'serif'},lg);}
</script>
</body></html>
